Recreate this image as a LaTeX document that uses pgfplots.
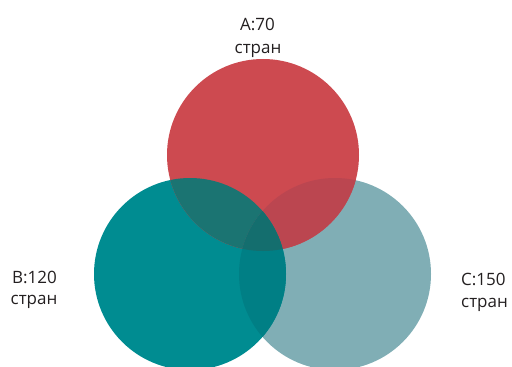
\documentclass[border=0pt]{standalone}
\usepackage{pgfplots}
\pgfplotsset{compat=1.18}
\usepackage{fontspec}
\setmainfont{Open Sans}
\definecolor{cA}{HTML}{CD4A50}
\definecolor{cB}{HTML}{008C91}
\definecolor{cC}{HTML}{80AEB5}
\definecolor{cAB}{HTML}{1B7472}
\definecolor{cAC}{HTML}{BB4650}
\definecolor{cBC}{HTML}{007F85}
\definecolor{cABC}{HTML}{146E6E}
\definecolor{txt}{HTML}{231F20}
\begin{document}
\begin{tikzpicture}
\begin{axis}[name=ax,
  width=512bp, height=367bp, scale only axis,
  xmin=0, xmax=512, ymin=0, ymax=367, y dir=reverse,
  hide axis, clip=true]
% centres (x, y) and radius r, in pixels
\def\r{96}
\fill[cC] (axis cs:335,274) circle[radius=\r];
\fill[cB] (axis cs:190,274) circle[radius=\r];
\fill[cA] (axis cs:263,155) circle[radius=\r];
\begin{scope}
  \clip (axis cs:263,155) circle[radius=\r];
  \fill[cAB] (axis cs:190,274) circle[radius=\r];
  \fill[cAC] (axis cs:335,274) circle[radius=\r];
\end{scope}
\begin{scope}
  \clip (axis cs:190,274) circle[radius=\r];
  \fill[cBC] (axis cs:335,274) circle[radius=\r];
  \clip (axis cs:335,274) circle[radius=\r];
  \fill[cABC] (axis cs:263,155) circle[radius=\r];
\end{scope}
\node[anchor=base, text=txt, font=\fontsize{17bp}{20bp}\selectfont, inner sep=0pt] at (axis cs:257.5,31) {A:70};
\node[anchor=base, text=txt, font=\fontsize{17bp}{20bp}\selectfont, inner sep=0pt] at (axis cs:258,53) {стран};
\node[anchor=base, text=txt, font=\fontsize{17bp}{20bp}\selectfont, inner sep=0pt] at (axis cs:34.5,283) {B:120};
\node[anchor=base, text=txt, font=\fontsize{17bp}{20bp}\selectfont, inner sep=0pt] at (axis cs:34,304) {стран};
\node[anchor=base west, text=txt, font=\fontsize{17bp}{20bp}\selectfont, inner sep=0pt] at (axis cs:461,285) {C:150};
\node[anchor=base west, text=txt, font=\fontsize{17bp}{20bp}\selectfont, inner sep=0pt] at (axis cs:461,307) {стран};
\end{axis}
\pgfresetboundingbox
\path[use as bounding box] (ax.south west) rectangle (ax.north east);
\end{tikzpicture}
\end{document}
